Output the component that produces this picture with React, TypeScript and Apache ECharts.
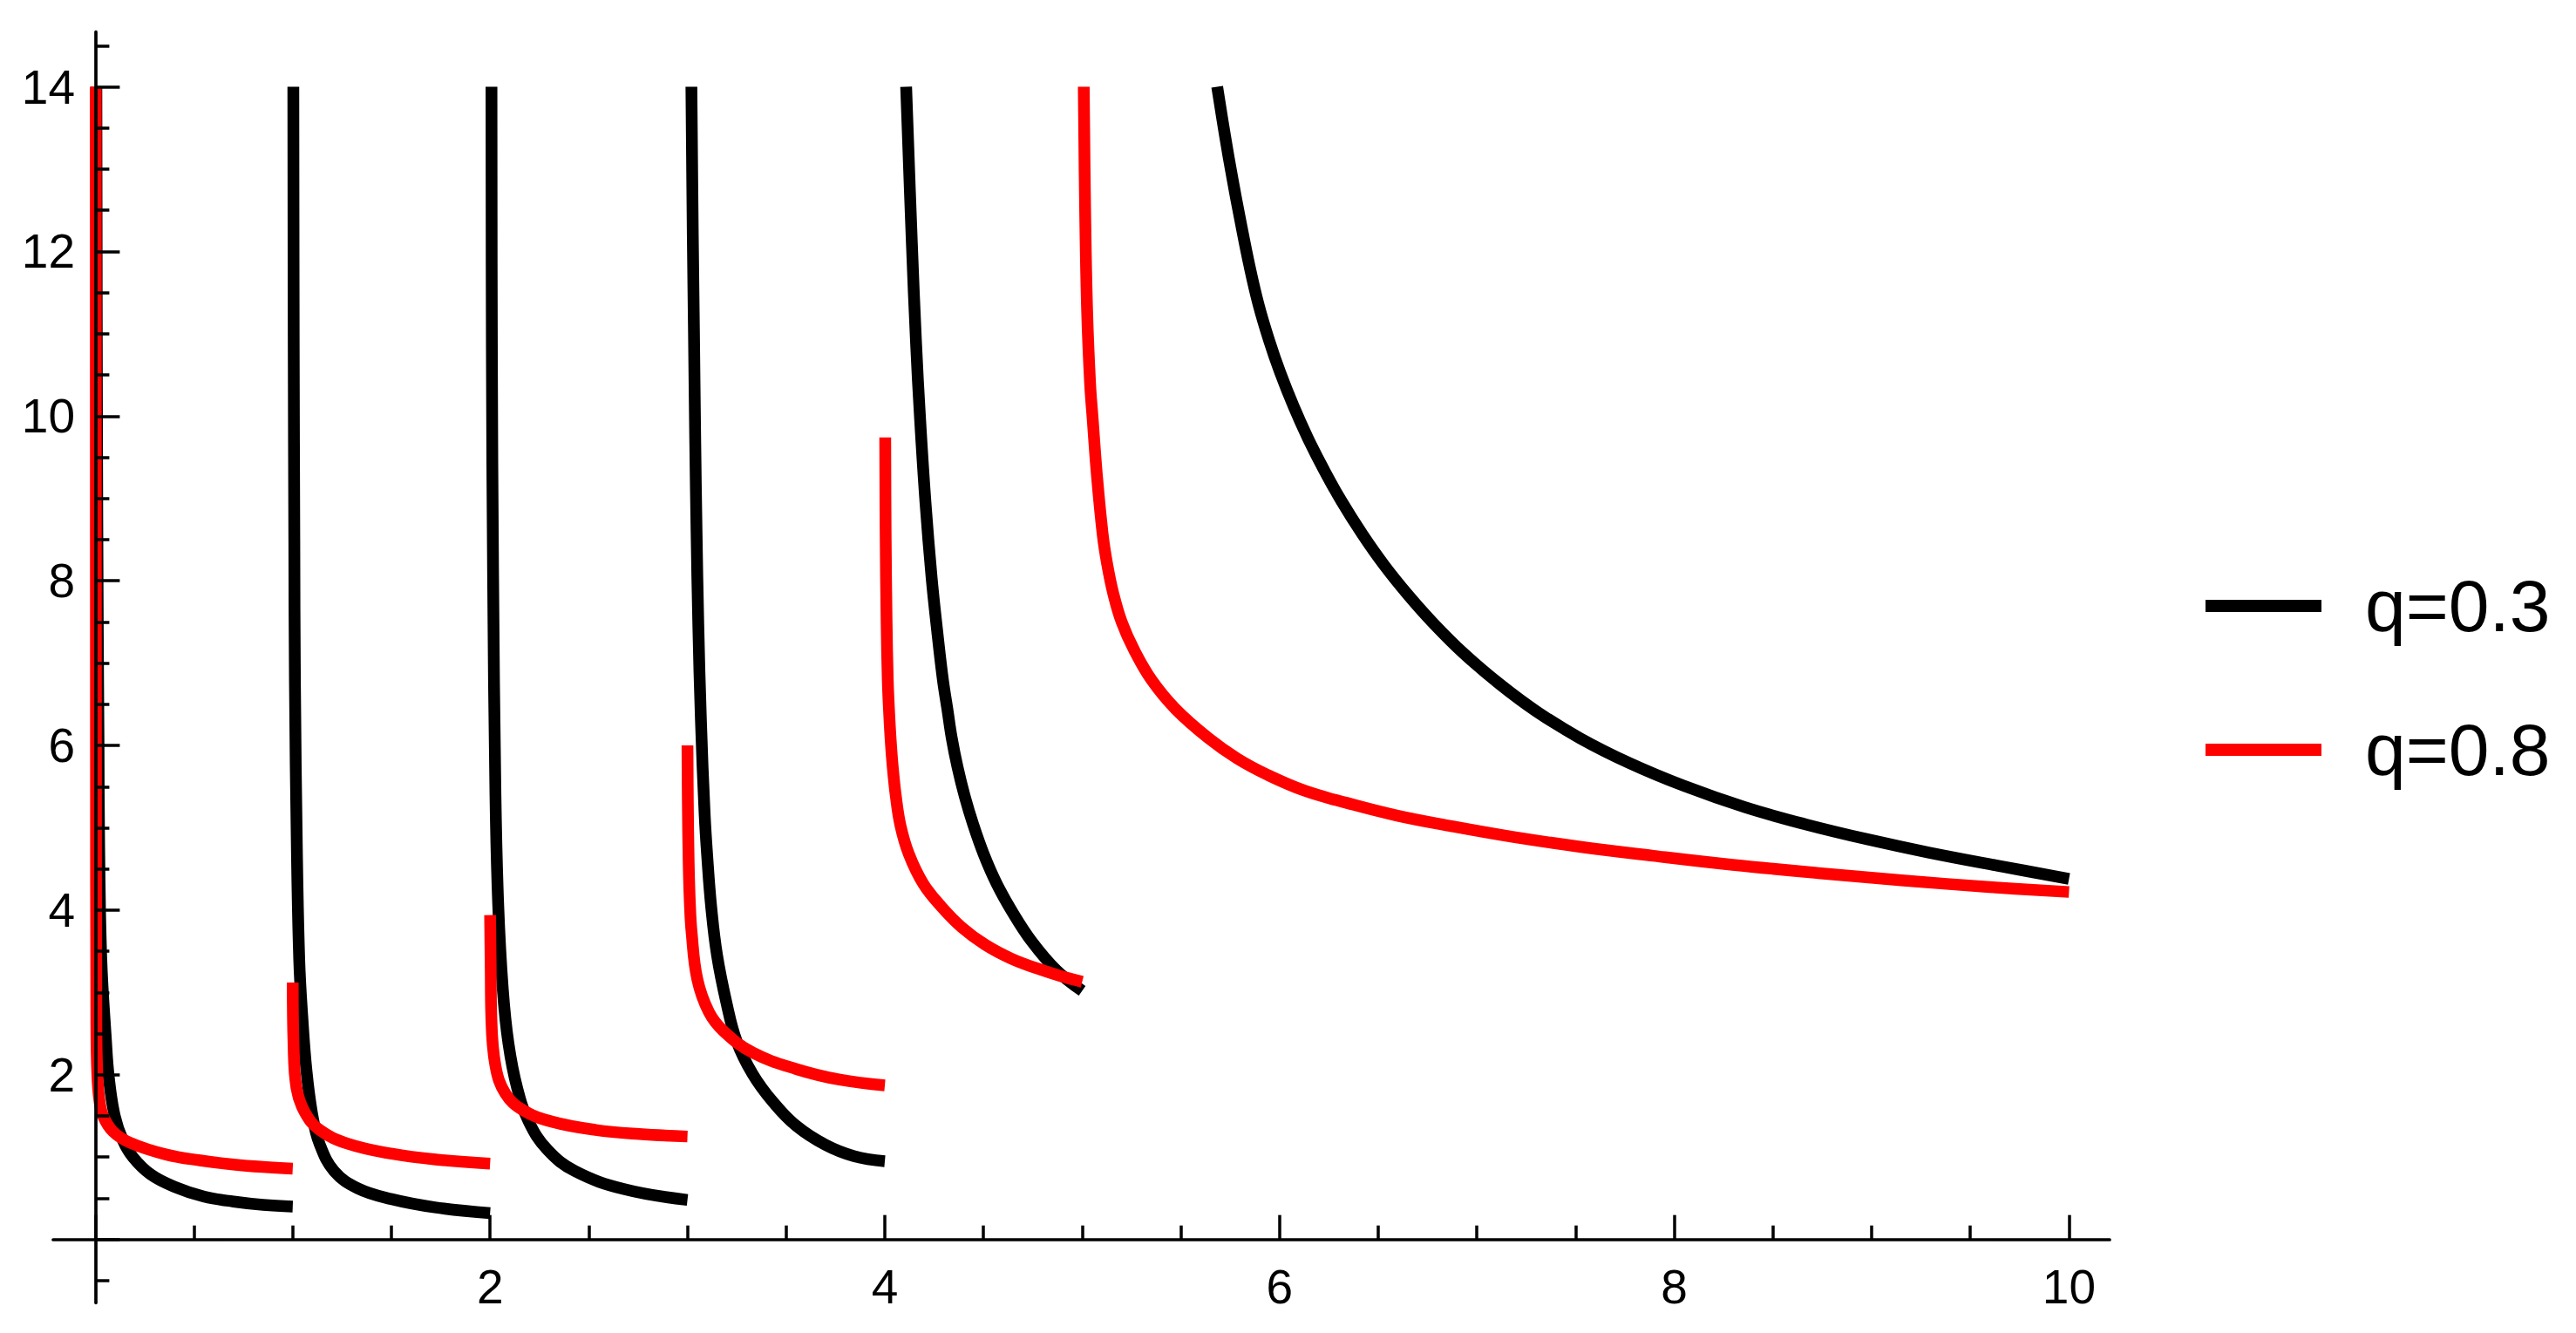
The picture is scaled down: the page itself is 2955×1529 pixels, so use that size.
import React, { useEffect, useRef } from "react";
import * as echarts from "echarts";

// ---- data (x, y) ----
const q03Seg1 = [[0.005, 14], [0.008, 10], [0.012, 7.5], [0.016, 6], [0.019, 4.8], [0.03, 3.4], [0.053, 2.44], [0.068, 1.97], [0.098, 1.5], [0.14, 1.2], [0.19, 1.0], [0.28, 0.79], [0.4, 0.64], [0.55, 0.52], [0.7, 0.46], [0.85, 0.42], [1.0, 0.4]];
const q03Seg2 = [[1.003, 14], [1.005, 10.8], [1.008, 8.5], [1.011, 6.8], [1.021, 4.74], [1.033, 3.39], [1.048, 2.72], [1.07, 2.04], [1.1, 1.5], [1.136, 1.16], [1.21, 0.83], [1.33, 0.62], [1.5, 0.49], [1.72, 0.39], [2.0, 0.32]];
const q03Seg3 = [[2.007, 14], [2.009, 10.8], [2.015, 8.12], [2.027, 5.42], [2.041, 4.07], [2.064, 3.05], [2.093, 2.38], [2.137, 1.84], [2.196, 1.43], [2.29, 1.09], [2.43, 0.83], [2.68, 0.61], [3.0, 0.48]];
const q03Seg4 = [[3.02, 14], [3.027, 12.2], [3.033, 11.0], [3.039, 9.76], [3.046, 8.61], [3.055, 7.46], [3.068, 6.32], [3.087, 5.17], [3.102, 4.59], [3.121, 4.02], [3.15, 3.45], [3.198, 2.87], [3.249, 2.41], [3.33, 2.01], [3.433, 1.67], [3.551, 1.38], [3.698, 1.15], [3.845, 1.01], [4.0, 0.95]];
const q03Seg5 = [[4.108, 14], [4.137, 12.1], [4.158, 10.9], [4.179, 9.95], [4.206, 8.95], [4.237, 8.04], [4.264, 7.42], [4.294, 6.8], [4.317, 6.44], [4.339, 6.09], [4.368, 5.74], [4.405, 5.38], [4.449, 5.03], [4.501, 4.68], [4.567, 4.32], [4.648, 3.97], [4.744, 3.62], [4.869, 3.27], [5.0, 3.02]];
const q03Seg6 = [[5.684, 14], [5.724, 13.4], [5.761, 12.89], [5.801, 12.38], [5.848, 11.82], [5.894, 11.35], [5.947, 10.92], [6.003, 10.53], [6.071, 10.12], [6.142, 9.74], [6.22, 9.37], [6.313, 8.97], [6.421, 8.56], [6.53, 8.19], [6.654, 7.82], [6.777, 7.49], [6.932, 7.12], [7.118, 6.74], [7.304, 6.41], [7.521, 6.09], [7.769, 5.79], [8.048, 5.51], [8.358, 5.25], [8.668, 5.04], [8.978, 4.86], [9.288, 4.7], [9.66, 4.53], [10.0, 4.38]];

const q08Seg1 = [[0.002, 14], [0.003, 6], [0.005, 2.6], [0.01, 2.0], [0.02, 1.7], [0.039, 1.5], [0.09, 1.31], [0.18, 1.17], [0.36, 1.03], [0.53, 0.96], [0.7, 0.91], [0.85, 0.88], [1.0, 0.86]];
const q08Seg2 = [[1.0, 3.12], [1.004, 2.38], [1.019, 1.84], [1.06, 1.55], [1.136, 1.33], [1.283, 1.16], [1.504, 1.04], [1.725, 0.97], [2.0, 0.92]];
const q08Seg3 = [[2.0, 3.94], [2.003, 3.3], [2.006, 2.72], [2.027, 2.11], [2.078, 1.77], [2.167, 1.57], [2.314, 1.43], [2.535, 1.33], [2.756, 1.28], [3.0, 1.25]];
const q08Seg4 = [[3.0, 6.0], [3.002, 5.3], [3.006, 4.59], [3.012, 4.1], [3.021, 3.73], [3.05, 3.16], [3.109, 2.76], [3.183, 2.53], [3.33, 2.27], [3.551, 2.07], [3.772, 1.94], [4.0, 1.87]];
const q08Seg5 = [[4.002, 9.74], [4.004, 8.6], [4.009, 7.5], [4.015, 6.79], [4.021, 6.44], [4.029, 6.09], [4.04, 5.74], [4.056, 5.38], [4.079, 5.03], [4.122, 4.68], [4.195, 4.32], [4.287, 4.04], [4.39, 3.79], [4.508, 3.58], [4.641, 3.41], [4.773, 3.29], [4.89, 3.2], [5.0, 3.13]];
const q08Seg6 = [[5.008, 14], [5.015, 12.5], [5.025, 11.28], [5.04, 10.4], [5.053, 9.97], [5.075, 9.27], [5.104, 8.56], [5.126, 8.21], [5.157, 7.85], [5.2, 7.5], [5.265, 7.15], [5.353, 6.79], [5.474, 6.44], [5.639, 6.09], [5.786, 5.84], [5.941, 5.64], [6.127, 5.45], [6.344, 5.3], [6.592, 5.15], [6.87, 5.02], [7.18, 4.89], [7.521, 4.77], [7.893, 4.66], [8.296, 4.55], [8.73, 4.45], [9.164, 4.36], [9.598, 4.28], [10.0, 4.22]];

const seriesNames = ["q=0.3", "q=0.8"];
const seriesColors = ["#000000", "#ff0000"];
const q03Segments = [q03Seg1, q03Seg2, q03Seg3, q03Seg4, q03Seg5, q03Seg6];
const q08Segments = [q08Seg1, q08Seg2, q08Seg3, q08Seg4, q08Seg5, q08Seg6];

const xTickValues = [0, 2, 4, 6, 8, 10];
const xLabelValues = [2, 4, 6, 8, 10];
const yTickValues = [0, 2, 4, 6, 8, 10, 12, 14];
const yLabelValues = [2, 4, 6, 8, 10, 12, 14];

const FONT = "'Liberation Sans', Arial, Helvetica, sans-serif";

export default function App() {
  const ref = useRef<HTMLDivElement>(null);

  useEffect(() => {
    document.body.style.margin = "0";
    document.body.style.overflow = "hidden";
    const chart = echarts.init(ref.current!, null, { renderer: "svg" });

    const makeSeries = (segs: number[][][], idx: number) =>
      segs.map((d) => ({
        type: "line",
        name: seriesNames[idx],
        data: d,
        showSymbol: false,
        symbol: "none",
        smooth: 0.4,
        clip: true,
        z: 2 + idx,
        itemStyle: { color: seriesColors[idx] },
        lineStyle: { color: seriesColors[idx], width: 13.5, cap: "butt", join: "round" },
        emphasis: { disabled: true },
        silent: true,
      }));

    const tickLine = { color: "#000", width: 3.5 };

    const option: any = {
      animation: false,
      backgroundColor: "#ffffff",
      grid: {
        left: 61,
        top: 36.7,
        width: 2359,
        height: 1457.6,
        containLabel: false,
        outerBoundsMode: "none",
      },
      legend: {
        show: true,
        data: seriesNames,
        orient: "vertical",
        left: 2530,
        top: 639,
        icon: "rect",
        itemWidth: 133,
        itemHeight: 14,
        itemGap: 53,
        padding: 0,
        selectedMode: false,
        textStyle: {
          fontSize: 84,
          fontFamily: FONT,
          color: "#000",
          lineHeight: 100,
          padding: [0, 0, 12, 45],
        },
      },
      xAxis: {
        type: "value",
        min: -0.2138,
        max: 10.2058,
        minInterval: 2,
        maxInterval: 2,
        z: 10,
        axisLine: { show: true, onZero: true, lineStyle: { color: "#000", width: 3.7 } },
        axisTick: { show: true, inside: true, length: 28, lineStyle: tickLine, customValues: xTickValues },
        minorTick: { show: true, splitNumber: 4, length: 16, lineStyle: tickLine },
        axisLabel: {
          show: true,
          customValues: xLabelValues,
          fontSize: 55,
          fontFamily: FONT,
          color: "#000",
          margin: -46,
        },
        splitLine: { show: false },
        minorSplitLine: { show: false },
      },
      yAxis: {
        type: "value",
        min: -0.769,
        max: 14.665,
        minInterval: 2,
        maxInterval: 2,
        z: 10,
        axisLine: { show: true, onZero: true, lineStyle: { color: "#000", width: 3.7 } },
        axisTick: { show: true, inside: true, length: 28, lineStyle: tickLine, customValues: yTickValues },
        minorTick: { show: true, splitNumber: 4, length: 16, lineStyle: tickLine },
        axisLabel: {
          show: true,
          customValues: yLabelValues,
          fontSize: 55,
          fontFamily: FONT,
          color: "#000",
          margin: -25,
        },
        splitLine: { show: false },
        minorSplitLine: { show: false },
      },
      series: [...makeSeries(q03Segments, 0), ...makeSeries(q08Segments, 1)],
    };

    chart.setOption(option);
    return () => chart.dispose();
  }, []);

  return <div ref={ref} style={{ width: 2955, height: 1529 }} />;
}
